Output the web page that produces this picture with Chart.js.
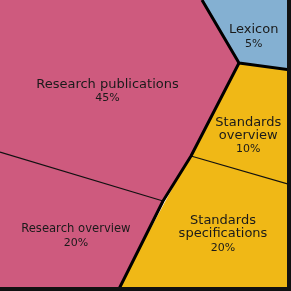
<!DOCTYPE html>
<html>

<head>
    <title>Voronoi treemap</title>
    <script src="https://cdn.jsdelivr.net/npm/chart.js"></script>
    <style>
        body { margin: 0; background: #fff; }
    </style>
</head>

<body>
    <canvas id="myChart" width="291" height="291"></canvas>
    <script>
        // cells of the treemap, outline points in map units (0..291)
        const categories = ['Research publications', 'Research overview', 'Lexicon', 'Standards\noverview', 'Standards\nspecifications'];
        const groups = ['Research', 'Research', 'Lexicon', 'Standards', 'Standards'];
        const shares = [45, 20, 5, 10, 20];

        const researchPublications = [[0, 0], [202, 0], [239, 63], [191, 156], [163, 201], [0, 152]];
        const researchOverview = [[0, 152], [163, 201], [118, 291], [0, 291]];
        const lexicon = [[202, 0], [291, 0], [291, 70], [239, 63]];
        const standardsOverview = [[239, 63], [291, 70], [291, 185], [191, 156]];
        const standardsSpecifications = [[191, 156], [291, 185], [291, 291], [118, 291]];
        const cells = [researchPublications, researchOverview, lexicon, standardsOverview, standardsSpecifications];

        // borders between groups (thick) and inside groups (thin)
        const groupBorders = [
            [[202, 0], [239, 63], [291, 70]],
            [[239, 63], [191, 156], [163, 201], [118, 291]]
        ];
        const cellBorders = [
            [[0, 152], [163, 201]],
            [[191, 156], [291, 185]]
        ];
        const frame = [[289, 0], [289, 289], [0, 289]];

        const groupColors = { Research: '#ce5a7e', Lexicon: '#84b0d2', Standards: '#f0b816' };
        // label tweaks: nudge (px) from the cell centroid, name font size
        const labelNudge = [[-3, 5], [9, 7], [-2, 7], [-4, 12], [5, 0]];
        const labelSize = [13, 11.6, 13, 13, 13];

        const toPoints = arr => arr.map(p => ({ x: p[0], y: p[1] }));

        function centroid(poly) {
            let a = 0, cx = 0, cy = 0;
            for (let i = 0; i < poly.length; i++) {
                const [x0, y0] = poly[i];
                const [x1, y1] = poly[(i + 1) % poly.length];
                const f = x0 * y1 - x1 * y0;
                a += f;
                cx += (x0 + x1) * f;
                cy += (y0 + y1) * f;
            }
            a *= 0.5;
            return [cx / (6 * a), cy / (6 * a)];
        }

        const datasets = [];
        cells.forEach((poly, i) => {
            datasets.push({
                data: toPoints(poly.concat([poly[0]])),
                showLine: true,
                fill: 'shape',
                backgroundColor: groupColors[groups[i]],
                borderColor: groupColors[groups[i]],
                borderWidth: 2,
                borderJoinStyle: 'round',
                pointRadius: 0,
                order: 3
            });
        });
        cellBorders.forEach(line => {
            datasets.push({ data: toPoints(line), showLine: true, borderColor: '#111', borderWidth: 1.3, pointRadius: 0, order: 2 });
        });
        groupBorders.forEach(line => {
            datasets.push({ data: toPoints(line), showLine: true, borderColor: '#000', borderWidth: 3, borderJoinStyle: 'round', pointRadius: 0, order: 1 });
        });
        datasets.push({ data: toPoints(frame), showLine: true, borderColor: '#111', borderWidth: 4, pointRadius: 0, order: 0 });

        const labelPlugin = {
            id: 'cellLabels',
            afterDatasetsDraw(chart) {
                const ctx = chart.ctx;
                const xs = chart.scales.x, ys = chart.scales.y;
                ctx.save();
                ctx.fillStyle = '#1a1a1a';
                ctx.textAlign = 'center';
                ctx.textBaseline = 'middle';
                cells.forEach((poly, i) => {
                    const c = centroid(poly);
                    const px = xs.getPixelForValue(c[0]) + labelNudge[i][0];
                    const py = ys.getPixelForValue(c[1]) + labelNudge[i][1];
                    const lines = categories[i].split('\n');
                    const total = lines.length * 13 + 14;
                    let y = py - total / 2 + 6;
                    ctx.font = labelSize[i] + 'px "DejaVu Sans"';
                    lines.forEach(l => { ctx.fillText(l, px, y); y += 13; });
                    ctx.font = '11px "DejaVu Sans"';
                    ctx.fillText(shares[i] + '%', px, y + 1);
                });
                ctx.restore();
            }
        };

        const config = {
            type: 'scatter',
            data: { datasets: datasets },
            options: {
                responsive: false,
                animation: false,
                layout: { padding: 0 },
                scales: {
                    x: { display: false, min: 0, max: 291 },
                    y: { display: false, min: 0, max: 291, reverse: true }
                },
                plugins: {
                    legend: { display: false },
                    tooltip: { enabled: false }
                }
            },
            plugins: [labelPlugin]
        };
        var myChart = new Chart(document.getElementById('myChart'), config);
    </script>
</body>

</html>
